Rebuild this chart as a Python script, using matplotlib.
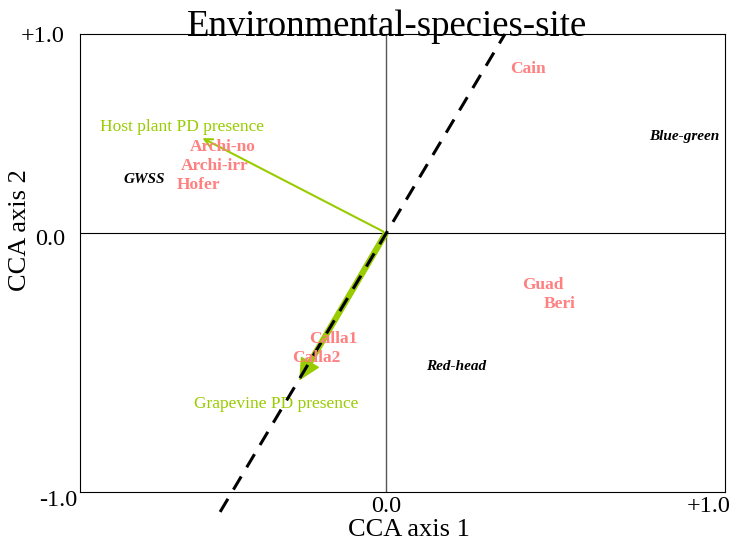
import matplotlib
matplotlib.use("Agg")
import matplotlib.pyplot as plt

plt.rcParams['font.family'] = ['Liberation Serif', 'DejaVu Serif']

# CCA scores
site_names = ["Archi-no", "Archi-irr", "Hofer", "Cain", "Guad", "Beri", "Calla1", "Calla2"]
site_x = [-0.533, -0.559, -0.614, 0.464, 0.513, 0.569, -0.173, -0.229]
site_y = [0.332, 0.259, 0.185, 0.633, -0.201, -0.274, -0.409, -0.483]

species_names = ["GWSS", "Blue-green", "Red-head"]
species_x = [-0.791, 0.974, 0.229]
species_y = [0.205, 0.371, -0.514]

env_names = ["Host plant PD presence", "Grapevine PD presence"]
env_x = [-0.608, -0.288]
env_y = [0.371, -0.579]
env_label_x = [-0.935, -0.359]
env_label_y = [0.409, -0.660]

trend_x = [-0.542, 0.389]
trend_y = [-1.077, 0.768]

pink = "#ff8080"
green = "#99cc00"

fig = plt.figure(figsize=(7.31, 5.42), dpi=100)
ax = fig.add_axes([0.1094, 0.0923, 0.8824, 0.845])
ax.set_xlim(-1, 1.108)
ax.set_ylim(-1, 0.768)

ax.axhline(0, color="black", lw=0.8)
ax.axvline(0, color="#555555", lw=1.0)

# environmental arrows: thick shaft for grapevine, head drawn with a thin pen
ax.plot([0, env_x[1] * 0.9], [0, env_y[1] * 0.9], color=green, lw=4.5,
        solid_capstyle="butt", zorder=3)
ax.annotate("", xy=(env_x[1], env_y[1]), xytext=(0, 0), zorder=3,
            arrowprops=dict(arrowstyle="-|>,head_length=0.7,head_width=0.35",
                            color=green, lw=1, mutation_scale=20))
ax.annotate("", xy=(env_x[0], env_y[0]), xytext=(0, 0), zorder=3,
            arrowprops=dict(arrowstyle="->", color=green, lw=1.5, mutation_scale=14))

ax.plot(trend_x, trend_y, color="black", lw=2.2, ls=(0, (5, 3.5)), clip_on=False, zorder=4)

ax.text(env_label_x[0], env_label_y[0], env_names[0], color=green, fontsize=12.5,
        ha="left", va="center")
ax.text(env_label_x[1], env_label_y[1], env_names[1], color=green, fontsize=12.5,
        ha="center", va="center")

for n, x, y in zip(site_names, site_x, site_y):
    ax.text(x, y, n, color=pink, fontsize=12.5, fontweight="bold", ha="center", va="center",
            zorder=5)

for n, x, y in zip(species_names, species_x, species_y):
    ax.text(x, y, n, color="black", fontsize=11, fontweight="bold", style="italic",
            ha="center", va="center")

ax.set_xticks([])
ax.set_yticks([])
for s in ax.spines.values():
    s.set_linewidth(0.8)

# corner tick labels
ax.text(-1.007, -1.031, "-1.0", fontsize=17.5, ha="right", va="center")
ax.text(-1.049, -0.027, "0.0", fontsize=17.5, ha="right", va="center")
ax.text(-1.049, 0.757, "+1.0", fontsize=17.5, ha="right", va="center")
ax.text(0, -1.058, "0.0", fontsize=17.5, ha="center", va="center")
ax.text(1.127, -1.058, "+1.0", fontsize=17.5, ha="right", va="center")

ax.text(0.075, -1.147, "CCA axis 1", fontsize=19, ha="center", va="center")
ax.text(-1.196, 0.012, "CCA axis 2", fontsize=19, ha="center", va="center", rotation=90)

ax.text(0.003, 0.795, "Environmental-species-site", fontsize=26.5, ha="center", va="center")

fig.savefig("out.png", dpi=100)
